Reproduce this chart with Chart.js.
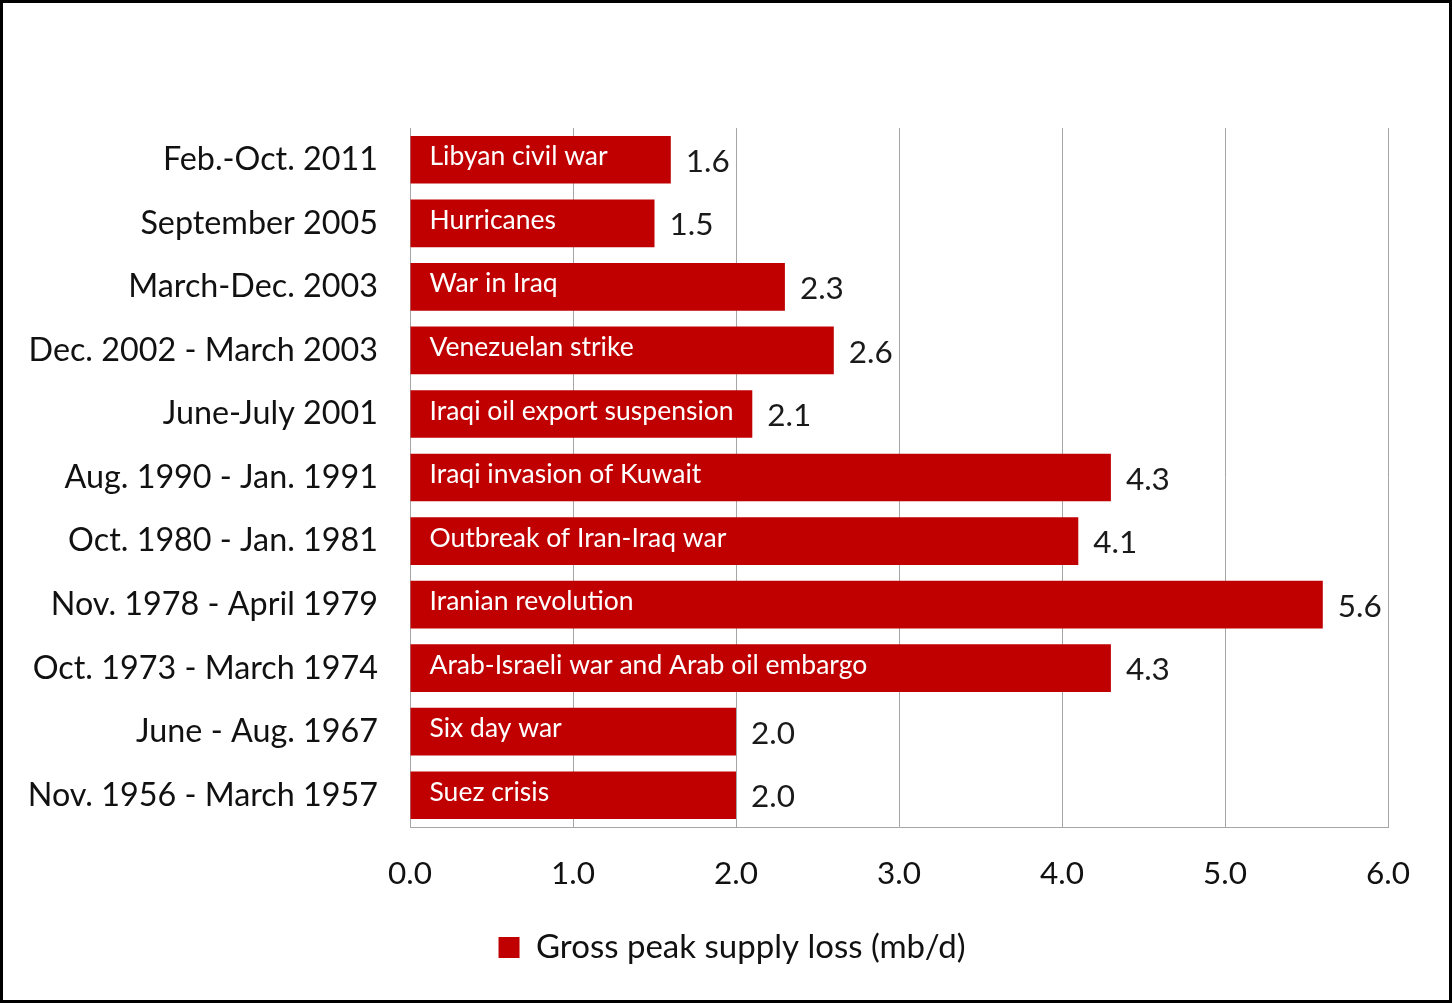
<!DOCTYPE html>
<html>
<head>
<meta charset="utf-8">
<script src="https://cdn.jsdelivr.net/npm/chart.js@4"></script>
<style>
  body { margin: 0; background: #fff; }
  #frame { width: 1452px; height: 1003px; box-sizing: border-box; border: 3px solid #000; background: #fff; }
  canvas { display: block; }
</style>
</head>
<body>
<div id="frame"><canvas id="supplyChart" width="1446" height="997"></canvas></div>
<script>
let periods = ['Feb.-Oct. 2011', 'September 2005', 'March-Dec. 2003', 'Dec. 2002 - March 2003', 'June-July 2001', 'Aug. 1990 - Jan. 1991', 'Oct. 1980 - Jan. 1981', 'Nov. 1978 - April 1979', 'Oct. 1973 - March 1974', 'June - Aug. 1967', 'Nov. 1956 - March 1957'];
let events = ['Libyan civil war', 'Hurricanes', 'War in Iraq', 'Venezuelan strike', 'Iraqi oil export suspension', 'Iraqi invasion of Kuwait', 'Outbreak of Iran-Iraq war', 'Iranian revolution', 'Arab-Israeli war and Arab oil embargo', 'Six day war', 'Suez crisis'];
let supplyLoss = [1.6, 1.5, 2.3, 2.6, 2.1, 4.3, 4.1, 5.6, 4.3, 2.0, 2.0];
let seriesName = 'Gross peak supply loss (mb/d)';

let fontFamily = 'Lato, "Open Sans", sans-serif';
let barRed = '#C00000';
let gridGray = '#a6a6a6';

Chart.defaults.font.family = fontFamily;
Chart.defaults.color = '#111';

// event name inside each bar, value just past the bar end
const barText = {
    id: 'barText',
    afterDatasetsDraw(chart) {
        let c = chart.ctx;
        let meta = chart.getDatasetMeta(0);
        c.save();
        c.textBaseline = 'middle';
        meta.data.forEach((bar, i) => {
            c.fillStyle = '#fff';
            c.font = '26.5px ' + fontFamily;
            c.textAlign = 'left';
            c.fillText(events[i], bar.base + 19, bar.y - 3);
            c.fillStyle = '#1a1a1a';
            c.font = '31.5px ' + fontFamily;
            c.fillText(supplyLoss[i].toFixed(1), bar.x + 15, bar.y + 2);
        });
        c.restore();
    }
};

let ctx = document.getElementById('supplyChart').getContext('2d');
let supplyChart = new Chart(ctx, {
    type: 'bar',
    data: {
        labels: periods,
        datasets: [{
            label: seriesName,
            data: supplyLoss,
            backgroundColor: barRed,
            borderWidth: 0,
            categoryPercentage: 1,
            barPercentage: 0.75
        }]
    },
    options: {
        indexAxis: 'y',
        responsive: false,
        animation: false,
        layout: {
            padding: { left: 12, top: 125, right: 0, bottom: 26 }
        },
        scales: {
            x: {
                min: 0,
                max: 6,
                afterFit: (scale) => {
                    scale.height = 94;
                    scale.paddingRight = 61;
                },
                ticks: {
                    stepSize: 1,
                    padding: 28,
                    color: '#111',
                    font: { size: 31.5 },
                    callback: (v) => Number(v).toFixed(1)
                },
                grid: { color: gridGray, lineWidth: 1, drawTicks: false },
                border: { color: gridGray, width: 1 }
            },
            y: {
                afterFit: (scale) => { scale.width = 395; },
                ticks: {
                    padding: 32,
                    color: '#111',
                    font: { size: 32.3 }
                },
                grid: { display: false, drawTicks: false },
                border: { color: gridGray, width: 1 }
            }
        },
        plugins: {
            legend: {
                position: 'bottom',
                labels: {
                    boxWidth: 21,
                    boxHeight: 21,
                    color: '#111',
                    font: { size: 33 }
                }
            },
            tooltip: { enabled: false }
        }
    },
    plugins: [barText]
});
</script>
</body>
</html>
